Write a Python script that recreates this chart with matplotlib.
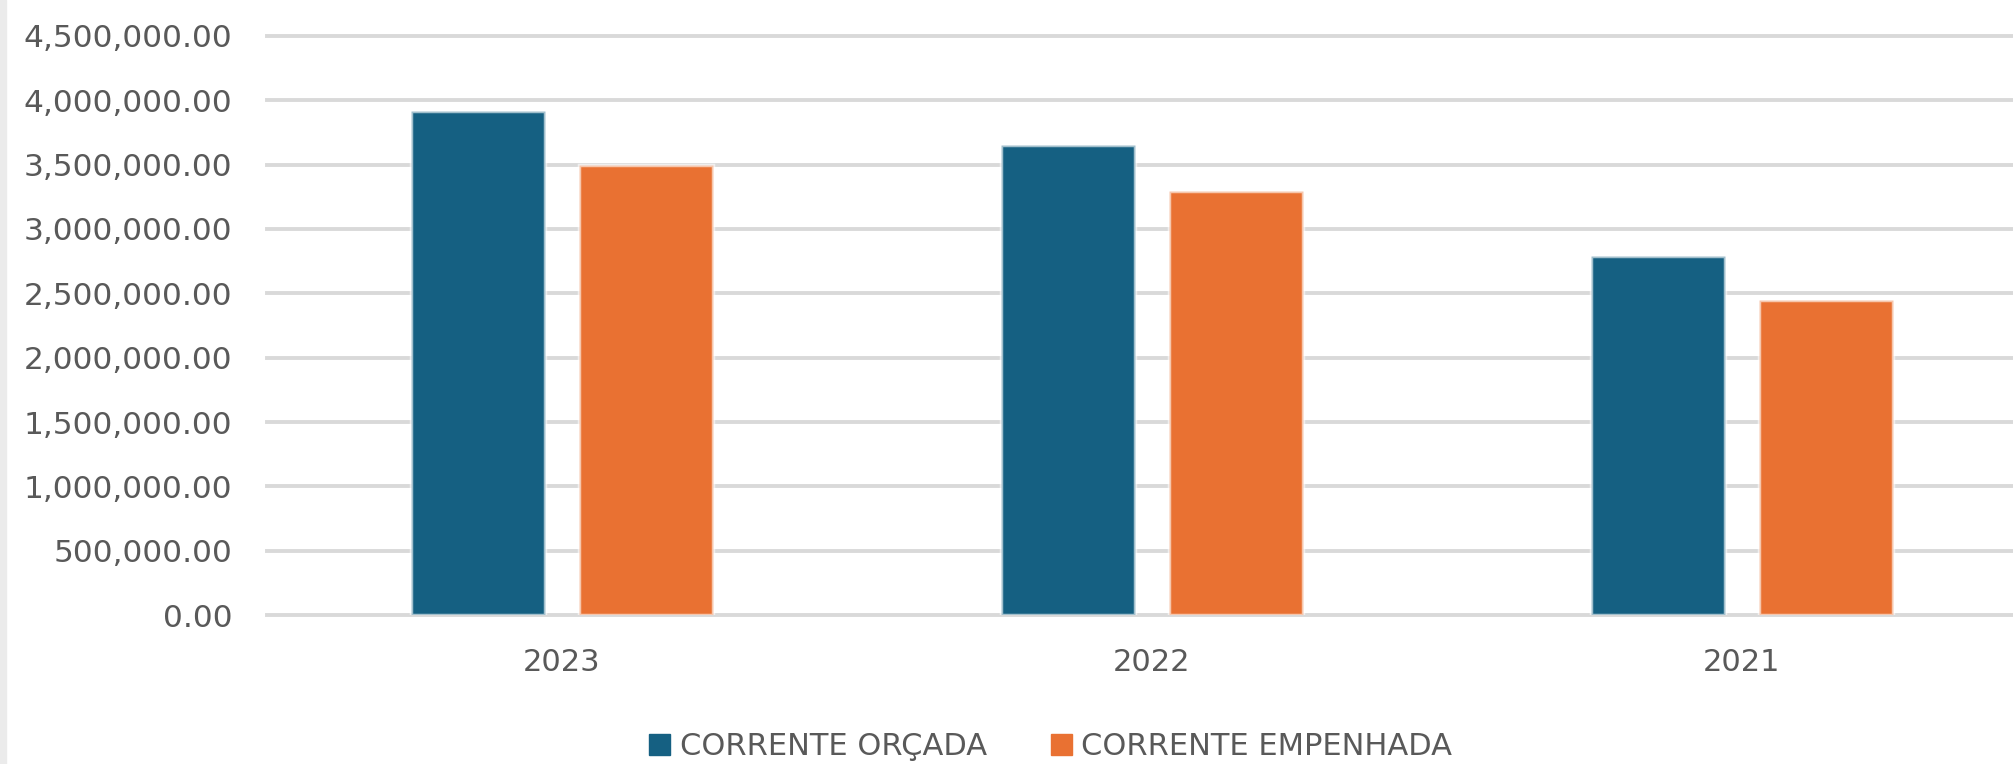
import matplotlib.pyplot as plt
import numpy as np
from matplotlib.patches import Rectangle, Patch
from matplotlib.ticker import FuncFormatter

years = ['2023', '2022', '2021']
orcada = [3920000, 3655000, 2790000]
empenhada = [3495000, 3295000, 2445000]
series_names = ['CORRENTE ORÇADA', 'CORRENTE EMPENHADA']

blue = '#156082'
orange = '#E97132'
text_grey = '#595959'

plt.rcParams['font.family'] = ['DejaVu Sans']
plt.rcParams['font.size'] = 22

fig = plt.figure(figsize=(20.13, 7.64), dpi=100)
ax = fig.add_axes([0.1326, 0.195, 0.8793, 0.7579])

x = np.arange(len(years))
w = 0.228
off = 0.1425
edge = (1, 1, 1, 0.6)
ax.bar(x - off, orcada, w, color=blue, edgecolor=edge, linewidth=2.5, zorder=3)
ax.bar(x + off, empenhada, w, color=orange, edgecolor=edge, linewidth=2.5, zorder=3)

ax.set_xlim(-0.5, 2.5)
ax.set_ylim(0, 4500000)
ax.set_yticks(np.arange(0, 4500001, 500000))
ax.yaxis.set_major_formatter(FuncFormatter(lambda v, p: f'{v:,.2f}'))
ax.set_xticks(x)
ax.set_xticklabels(years)

ax.grid(axis='y', color='#D9D9D9', linewidth=2.8, zorder=0)
ax.set_axisbelow(True)
# keep the top and bottom gridlines at full thickness
for gl in ax.get_ygridlines():
    gl.set_clip_on(False)
for s in ax.spines.values():
    s.set_visible(False)
ax.tick_params(axis='both', length=0, colors=text_grey, labelsize=22)
ax.tick_params(axis='y', pad=25, labelsize=22.5)
ax.tick_params(axis='x', pad=24)

# thin grey border strip on the left edge
fig.add_artist(Rectangle((0, 0), 6 / 2013, 1, transform=fig.transFigure,
                         color='#EBEBEB', zorder=0))

handles = [Patch(color=blue), Patch(color=orange)]
fig.legend(handles, series_names, loc='center', bbox_to_anchor=(0.522, 0.023),
           ncol=2, frameon=False, fontsize=22, labelcolor=text_grey,
           handlelength=0.69, handleheight=0.69, handletextpad=0.3,
           columnspacing=2.1, borderpad=0)

fig.savefig('out.png', dpi=100)
